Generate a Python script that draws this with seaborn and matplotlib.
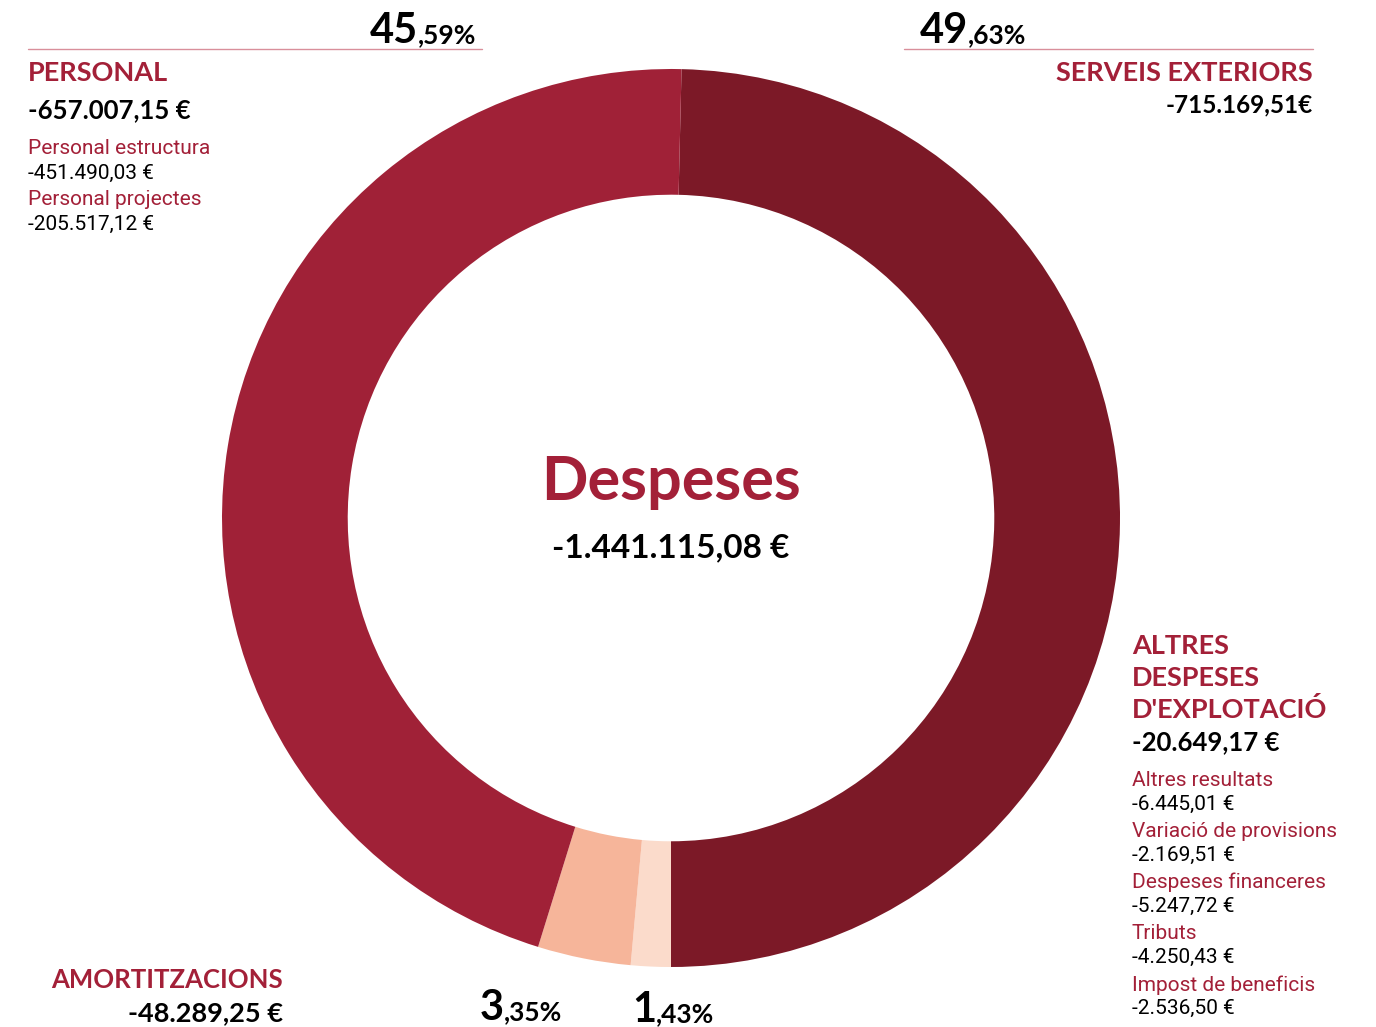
import matplotlib
matplotlib.use("Agg")
import matplotlib.pyplot as plt
import seaborn as sns

# Dades del gràfic
categories = ['SERVEIS EXTERIORS', 'ALTRES DESPESES D\'EXPLOTACIÓ', 'AMORTITZACIONS', 'PERSONAL']
values = [715169.51, 20649.17, 48289.25, 657007.15]
value_labels = ['-715.169,51€', '-20.649,17 €', '-48.289,25 €', '-657.007,15 €']
pct_big = ['49', '1', '3', '45']
pct_small = [',63%', ',43%', ',35%', ',59%']
colors = ['#7c1927', '#fbdbcb', '#f6b59a', '#a02137']

personal_items = ['Personal estructura', 'Personal projectes']
personal_values = ['-451.490,03 €', '-205.517,12 €']
altres_items = ['Altres resultats', 'Variació de provisions', 'Despeses financeres', 'Tributs', 'Impost de beneficis']
altres_values = ['-6.445,01 €', '-2.169,51 €', '-5.247,72 €', '-4.250,43 €', '-2.536,50 €']

total_label = '-1.441.115,08 €'
title = 'Despeses'

RED = '#a32038'
LINE = '#d98f9b'
HEAD = ['Lato', 'DejaVu Sans']
BODY = ['Roboto', 'DejaVu Sans']

sns.set_theme(style='white')
plt.rcParams['font.family'] = HEAD

W, H = 1376, 1027
fig = plt.figure(figsize=(W / 100, H / 100), dpi=100)


def fx(x):
    return x / W


def fy(y):
    return 1 - y / H


def txt(x, y, s, size, color='black', weight='normal', ha='left', family=HEAD, va='center'):
    return fig.text(fx(x), fy(y), s, fontsize=size, color=color, fontweight=weight,
                    ha=ha, va=va, family=family)


def pct(x, y, big, small, ha='left'):
    # part gran + part petita, alineades a la línia base
    r = fig.canvas.get_renderer()
    if ha == 'left':
        t = txt(x, y, big, 30, weight='bold', va='baseline')
        w = t.get_window_extent(r).width
        txt(x + w, y, small, 19, weight='bold', va='baseline')
    else:
        t = txt(x, y, small, 19, weight='bold', ha='right', va='baseline')
        w = t.get_window_extent(r).width
        txt(x - w, y, big, 30, weight='bold', ha='right', va='baseline')


# donut
cx, cy, R = 671, 518, 449
ax = fig.add_axes([fx(cx - R), fy(cy + R), 2 * R / W, 2 * R / H])
start = 90 - (180 - 360 * values[0] / sum(values))
ax.pie(values, colors=colors, startangle=start, counterclock=False,
       wedgeprops=dict(width=0.28, linewidth=0))
ax.set_xlim(-1, 1)
ax.set_ylim(-1, 1)
ax.axis('off')

# centre
txt(cx, 482, title, 44, color=RED, weight='bold', ha='center')
txt(cx, 548, total_label, 24, weight='bold', ha='center')

# PERSONAL
pct(476, 43, pct_big[3], pct_small[3], ha='right')
fig.add_artist(plt.Line2D([fx(28), fx(482)], [fy(49), fy(49)], color=LINE, lw=1))
txt(28, 73, categories[3], 19.5, color=RED, weight='bold')
txt(28, 110, value_labels[3], 18.5, weight='bold')
for i, (n, v) in enumerate(zip(personal_items, personal_values)):
    txt(28, 148 + i * 51.5, n, 15, color=RED, family=BODY)
    txt(28, 173 + i * 51.5, v, 15, family=BODY)

# SERVEIS EXTERIORS
pct(920, 43, pct_big[0], pct_small[0])
fig.add_artist(plt.Line2D([fx(904), fx(1313)], [fy(49), fy(49)], color=LINE, lw=1))
txt(1313, 73, categories[0], 19.5, color=RED, weight='bold', ha='right')
txt(1313, 105, value_labels[0], 17.5, weight='bold', ha='right')

# ALTRES DESPESES D'EXPLOTACIÓ
for i, w in enumerate(['ALTRES', 'DESPESES', 'D\'EXPLOTACIÓ']):
    txt(1132, 646 + i * 32, w, 19.5, color=RED, weight='bold')
txt(1132, 742, value_labels[1], 18.5, weight='bold')
for i, (n, v) in enumerate(zip(altres_items, altres_values)):
    txt(1132, 780 + i * 51.2, n, 15, color=RED, family=BODY)
    txt(1132, 804 + i * 51.2, v, 15, family=BODY)

# AMORTITZACIONS
txt(283, 980, categories[2], 18.5, color=RED, weight='bold', ha='right')
txt(283, 1013, value_labels[2], 19.5, weight='bold', ha='right')
pct(480, 1020, pct_big[2], pct_small[2])
pct(632, 1022, pct_big[1], pct_small[1])

fig.savefig('out.png', dpi=100)
